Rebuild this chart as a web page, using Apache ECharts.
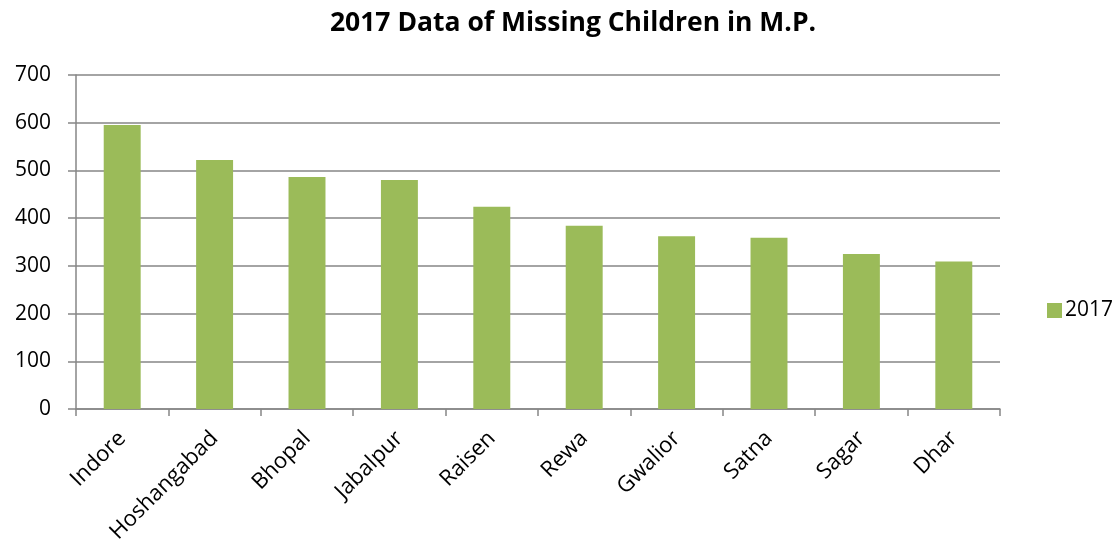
<!DOCTYPE html>
<html><head><meta charset="utf-8">
<script src="https://cdn.jsdelivr.net/npm/echarts@6/dist/echarts.min.js"></script>
<style>html,body{margin:0;padding:0;background:#fff}#c{width:1120px;height:546px}</style>
</head><body><div id="c"></div>
<script>
const categories = ["Indore","Hoshangabad","Bhopal","Jabalpur","Raisen","Rewa","Gwalior","Satna","Sagar","Dhar"];
const values2017 = [595, 522, 486, 480, 424, 384, 362, 359, 325, 309];
const seriesName = "2017";
const titleText = "2017 Data of Missing Children in M.P.";

const FONT = "'Open Sans', sans-serif";
const chart = echarts.init(document.getElementById('c'));
chart.setOption({
  animation: false,
  title: { text: titleText, left: 568, top: 5, textAlign: 'center',
    textStyle: { fontFamily: FONT, fontSize: 26.5, fontWeight: 'bold', color: '#000' } },
  legend: { left: 1042, top: 295, orient: 'vertical', itemWidth: 15, itemHeight: 15, itemGap: 6,
    data: [{ name: seriesName, icon: 'rect' }],
    textStyle: { fontFamily: FONT, fontSize: 21, color: '#000', padding: [0, 0, 0, -2] } },
  grid: { left: 76, right: 120, top: 75, bottom: 137, containLabel: false },
  xAxis: { type: 'category', data: categories,
    axisLine: { lineStyle: { color: '#868686', width: 1.5 } },
    axisTick: { show: true, length: 7, interval: 0, lineStyle: { color: '#868686', width: 1.5 } },
    axisLabel: { rotate: 45, interval: 0, margin: 26, fontFamily: FONT, fontSize: 22, color: '#000' } },
  yAxis: { type: 'value', min: 0, max: 700, interval: 100,
    axisLine: { show: true, lineStyle: { color: '#868686', width: 1.5 } },
    axisTick: { show: true, length: 8, lineStyle: { color: '#868686', width: 1.5 } },
    splitLine: { lineStyle: { color: '#868686', width: 1.5 } },
    axisLabel: { margin: 25, fontFamily: FONT, fontSize: 21, color: '#000' } },
  series: [{ name: seriesName, type: 'bar', data: values2017, barWidth: '40%',
    itemStyle: { color: '#9BBB59' } }]
});
</script></body></html>
